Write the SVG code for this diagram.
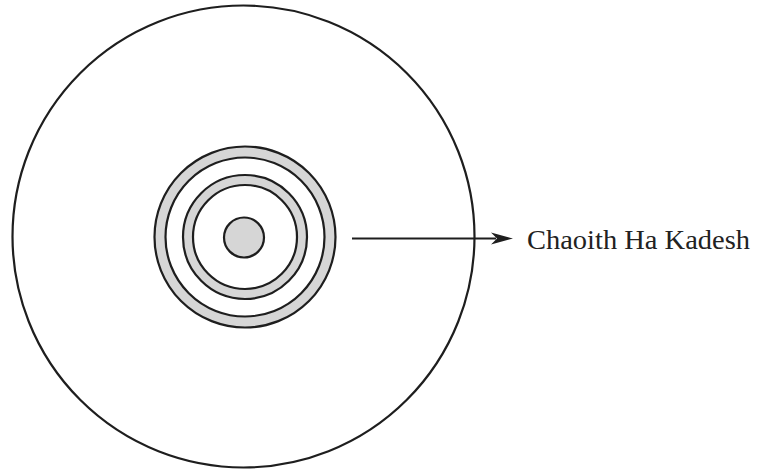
<svg xmlns="http://www.w3.org/2000/svg" width="757" height="471" viewBox="0 0 757 471">
<style>
.ln{stroke:#1e1e1e;stroke-width:2.2;}
.band{fill:#d6d6d6;}
.hole{fill:#ffffff;}
.lbl{font-family:"Liberation Serif","DejaVu Serif",serif;font-size:27px;fill:#222;}
</style>
<rect width="757" height="471" fill="#ffffff"/>
<g id="outer-circle">
<circle cx="243.5" cy="236.5" r="231" fill="none" class="ln" stroke-width="2"/>
</g>
<g id="rings">
<circle cx="245" cy="237" r="90.5" class="ln band"/>
<circle cx="245" cy="237" r="79.5" class="ln hole"/>
<circle cx="245" cy="237" r="62" class="ln band"/>
<circle cx="245" cy="237" r="52" class="ln hole"/>
<circle cx="244" cy="237.5" r="20" class="ln band"/>
</g>
<g id="connectors">
<line x1="352" y1="238.5" x2="496" y2="238.5" class="ln" stroke-width="1.8"/>
<path d="M513,238.5 L491,232.5 L497,238.5 L491,244.5 Z" fill="#1e1e1e"/>
</g>
<g id="label">
<text x="527" y="249" class="lbl" textLength="223" lengthAdjust="spacingAndGlyphs">Chaoith Ha Kadesh</text>
</g>
</svg>
